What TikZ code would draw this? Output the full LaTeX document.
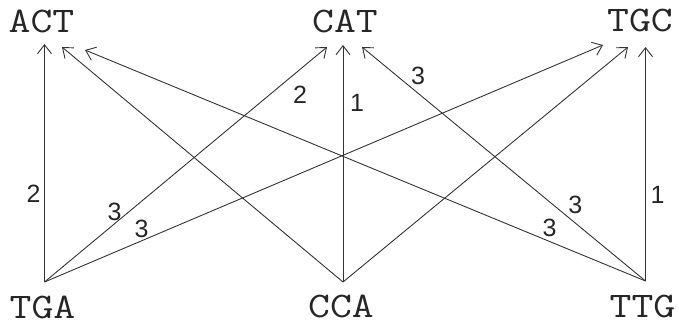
\documentclass[tikz,border=0pt]{standalone}
\usepackage{fontspec}
\setmainfont{Liberation Sans}
\usetikzlibrary{arrows.meta}
\newcommand{\seqtext}[1]{\scalebox{1.18}[1]{#1}}
\begin{document}
\begin{tikzpicture}[x=1pt,y=-1pt,
  seq/.style={font=\ttfamily\fontsize{36}{36}\selectfont, inner sep=0pt, text=black!85},
  wt/.style={font=\fontsize{25}{25}\selectfont, inner sep=0pt, text=black!85},
  edge/.style={draw=black!80, line width=0.9pt, -{Straight Barb[length=9pt,width=14pt]}}]
\useasboundingbox (0,0) rectangle (679,325);
% sequence labels
\node[seq] (ACT) at (41.5,21) {\seqtext{ACT}};
\node[seq] (CAT) at (345,21) {\seqtext{CAT}};
\node[seq] (TGC) at (640,20) {\seqtext{TGC}};
\node[seq] (TGA) at (42.5,307) {\seqtext{TGA}};
\node[seq] (CCA) at (341,306) {\seqtext{CCA}};
\node[seq] (TTG) at (642.5,306) {\seqtext{TTG}};
% tails
\coordinate (tgaP) at (44.5,282);
\coordinate (ccaP) at (343,282);
\coordinate (ttgP) at (645.5,281);
% heads
\coordinate (actV) at (44.5,44);
\coordinate (actC) at (62,47);
\coordinate (actT) at (85,50);
\coordinate (catG) at (327,47);
\coordinate (catV) at (343,45);
\coordinate (catT) at (362,47);
\coordinate (tgcG) at (603,45);
\coordinate (tgcC) at (628,47);
\coordinate (tgcV) at (645.5,47);
% edges
\draw[edge] (tgaP) -- (actV) node[wt, pos=0.37, xshift=-11pt] {2};
\draw[edge] (tgaP) -- (catG)
  node[wt, pos=0.269, xshift=-6pt, yshift=7pt] {3}
  node[wt, pos=0.862, xshift=12pt, yshift=-15pt] {2};
\draw[edge] (tgaP) -- (tgcG) node[wt, pos=0.181, xshift=-4pt, yshift=10pt] {3};
\draw[edge] (ccaP) -- (actC);
\draw[edge] (ccaP) -- (catV) node[wt, pos=0.755, xshift=14pt] {1};
\draw[edge] (ccaP) -- (tgcC);
\draw[edge] (ttgP) -- (actT) node[wt, pos=0.18, xshift=5pt, yshift=12pt] {3};
\draw[edge] (ttgP) -- (catT)
  node[wt, pos=0.279, xshift=9pt, yshift=11pt] {3}
  node[wt, pos=0.832, xshift=8.5pt, yshift=10pt] {3};
\draw[edge] (ttgP) -- (tgcV) node[wt, pos=0.368, xshift=12pt] {1};
\end{tikzpicture}
\end{document}
